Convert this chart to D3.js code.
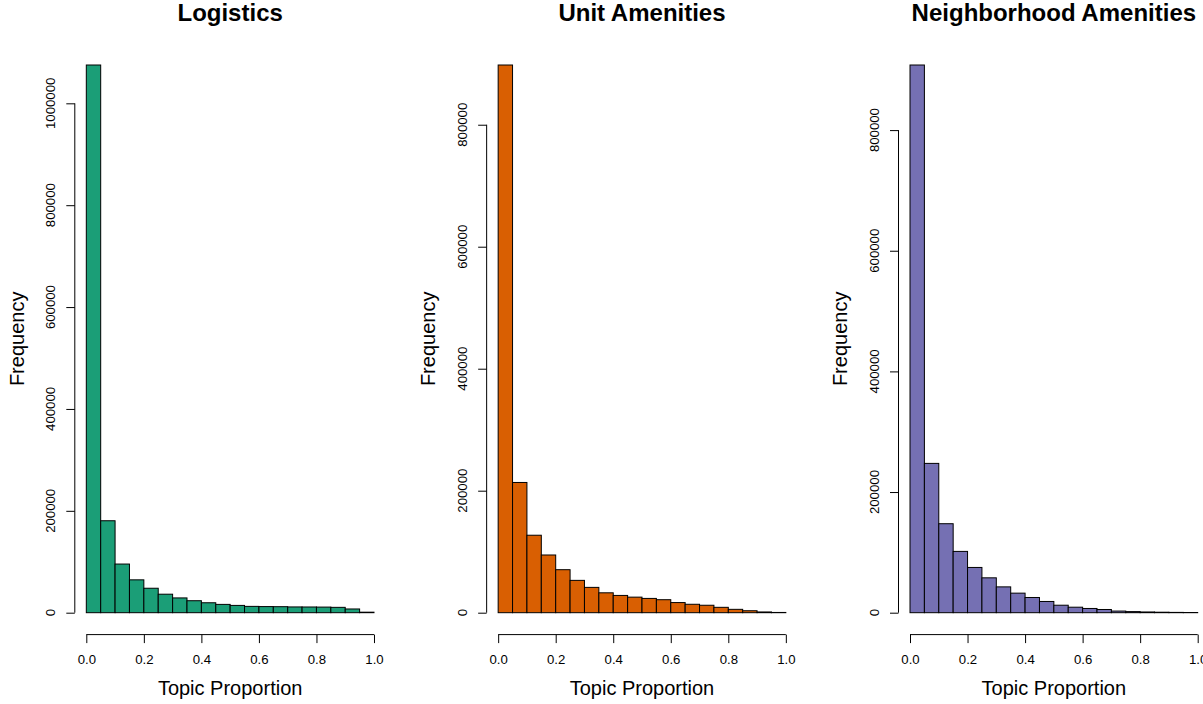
<!DOCTYPE html>
<html>
<head>
<meta charset="utf-8">
<script src="https://cdn.jsdelivr.net/npm/d3@7"></script>
<style>
  html, body { margin: 0; padding: 0; background: #fff; }
  svg { display: block; font-family: 'Liberation Sans', Arial, Helvetica, sans-serif; }
</style>
</head>
<body>
<svg id="chart" width="1203" height="704"></svg>
<script>
// histogram bin edges (topic proportion)
const breaks = [0, 0.05, 0.1, 0.15, 0.2, 0.25, 0.3, 0.35, 0.4, 0.45, 0.5,
  0.55, 0.6, 0.65, 0.7, 0.75, 0.8, 0.85, 0.9, 0.95, 1]

// counts per bin
const logisticsCounts = [1075200, 180500, 95500, 64500, 48000, 36300, 29000, 23500, 19500, 16300,
  14300, 12400, 12000, 11800, 11300, 11200, 11000, 10500, 7300, 1000]
const unitCounts = [897900, 213500, 127000, 94600, 70500, 53000, 41500, 32600, 28300, 25500,
  23400, 21300, 16600, 13800, 12200, 8800, 5500, 3200, 1200, 400]
const neighborhoodCounts = [907900, 247500, 147500, 101600, 75000, 57800, 42800, 32400, 25200, 18600,
  12400, 9100, 7000, 5300, 2700, 1800, 1200, 800, 500, 300]

const titles = ['Logistics', 'Unit Amenities', 'Neighborhood Amenities']
const colors = ['#1b9e77', '#d95f02', '#7570b3']
const xTicks = [0, 0.2, 0.4, 0.6, 0.8, 1]
const yTicksLogistics = [0, 200000, 400000, 600000, 800000, 1000000]
const yTicksOther = [0, 200000, 400000, 600000, 800000]

const panels = [
  { title: titles[0], counts: logisticsCounts, color: colors[0], yTicks: yTicksLogistics },
  { title: titles[1], counts: unitCounts, color: colors[1], yTicks: yTicksOther },
  { title: titles[2], counts: neighborhoodCounts, color: colors[2], yTicks: yTicksOther },
]

const svg = d3.select('#chart')

// layout of each panel (pixels)
const panelWidth = 411.85
const plot = { left: 74.8, width: 310.7, top: 43.1, bottom: 634.6 }

panels.forEach((p, i) => {
  const g = svg.append('g').attr('transform', `translate(${i * panelWidth},0)`)

  const bins = p.counts.map((c, k) => ({ x0: breaks[k], x1: breaks[k + 1], count: c }))
  const max = d3.max(p.counts)

  // R style 4% padding on both axes
  const x = d3.scaleLinear()
    .domain([-0.04, 1.04])
    .range([plot.left, plot.left + plot.width])
  const y = d3.scaleLinear()
    .domain([-0.04 * max, 1.04 * max])
    .range([plot.bottom, plot.top])

  // bars
  g.append('g')
    .selectAll('rect')
    .data(bins)
    .join('rect')
    .attr('x', d => x(d.x0))
    .attr('y', d => y(d.count))
    .attr('width', d => x(d.x1) - x(d.x0))
    .attr('height', d => y(0) - y(d.count))
    .attr('fill', p.color)
    .attr('stroke', '#000')
    .attr('stroke-width', 1)

  // x axis
  const xAxis = g.append('g')
    .attr('transform', `translate(0,${plot.bottom})`)
    .call(d3.axisBottom(x).tickValues(xTicks).tickFormat(d3.format('.1f'))
      .tickSize(8.5).tickSizeOuter(0).tickPadding(11.5))
  xAxis.select('.domain').remove()
  xAxis.append('line')
    .attr('x1', x(xTicks[0])).attr('x2', x(xTicks[xTicks.length - 1]))
    .attr('stroke', '#000')
  xAxis.selectAll('.tick line').attr('stroke', '#000')
  xAxis.selectAll('text')
    .attr('fill', '#000')
    .style('font-size', '13.2px')
    .style('font-family', "'Liberation Sans', Arial, sans-serif")

  // y axis
  const yAxis = g.append('g')
    .attr('transform', `translate(${plot.left},0)`)
    .call(d3.axisLeft(y).tickValues(p.yTicks).tickFormat('').tickSize(8.5).tickSizeOuter(0))
  yAxis.select('.domain').remove()
  yAxis.append('line')
    .attr('y1', y(p.yTicks[0])).attr('y2', y(p.yTicks[p.yTicks.length - 1]))
    .attr('stroke', '#000')
  yAxis.selectAll('.tick line').attr('stroke', '#000')

  g.append('g')
    .selectAll('text')
    .data(p.yTicks)
    .join('text')
    .attr('transform', d => `translate(${plot.left - 19.5},${y(d)}) rotate(-90)`)
    .attr('text-anchor', 'middle')
    .style('font-size', '13.2px')
    .text(d => d3.format('d')(d))

  // labels
  g.append('text')
    .attr('x', plot.left + plot.width / 2)
    .attr('y', 20.7)
    .attr('text-anchor', 'middle')
    .style('font-size', '24px')
    .style('font-weight', 'bold')
    .text(p.title)

  g.append('text')
    .attr('x', plot.left + plot.width / 2)
    .attr('y', 695)
    .attr('text-anchor', 'middle')
    .style('font-size', '20px')
    .text('Topic Proportion')

  g.append('text')
    .attr('transform', `translate(23.5,${(plot.top + plot.bottom) / 2}) rotate(-90)`)
    .attr('text-anchor', 'middle')
    .style('font-size', '20px')
    .text('Frequency')
})
</script>
</body>
</html>
